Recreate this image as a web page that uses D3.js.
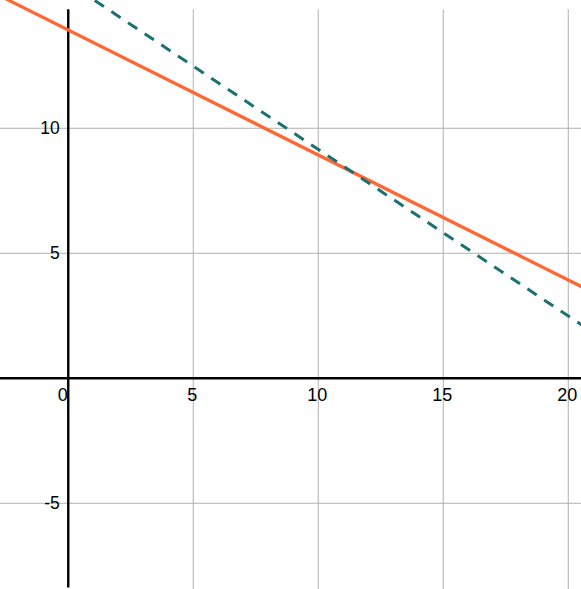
<!DOCTYPE html>
<html>
<head>
<meta charset="utf-8">
<script src="https://cdn.jsdelivr.net/npm/d3@7"></script>
<style>
  html, body { margin: 0; padding: 0; background: #fff; }
  svg { display: block; }
  text { font-family: "Liberation Sans", Arial, Helvetica, sans-serif; }
</style>
</head>
<body>
<svg id="chart" width="581" height="589"></svg>
<script>
// ---- data ----
const xDomain = [-2.73, 20.51];
const yDomain = [15.13, -8.43];
const xTicks = [0, 5, 10, 15, 20];
const yTicks = [10, 5, -5];
const xGrid = [5, 10, 15, 20];
const yGrid = [10, 5, -5];
const gridTop = 14.76;
const solidLine = [ {x: -3, y: 15.43}, {x: 21, y: 3.43} ];
const dashedLine = [ {x: 1.06, y: 15.11}, {x: 20.6, y: 2.09} ];

// ---- drawing ----
const W = 581, H = 589;
const svg = d3.select("#chart");
const x = d3.scaleLinear().domain(xDomain).range([0, W]);
const y = d3.scaleLinear().domain(yDomain).range([0, H]);

// grid
svg.append("g").selectAll("line").data(xGrid).join("line")
  .attr("x1", d => x(d)).attr("x2", d => x(d))
  .attr("y1", y(gridTop)).attr("y2", H)
  .attr("stroke", "#b0b0b0").attr("stroke-width", 1);
svg.append("g").selectAll("line").data(yGrid).join("line")
  .attr("x1", 0).attr("x2", W)
  .attr("y1", d => y(d)).attr("y2", d => y(d))
  .attr("stroke", "#b0b0b0").attr("stroke-width", 1);

// axes
svg.append("line")
  .attr("x1", 0).attr("x2", W)
  .attr("y1", y(0)).attr("y2", y(0))
  .attr("stroke", "#000").attr("stroke-width", 2.4);
svg.append("line")
  .attr("x1", x(0)).attr("x2", x(0))
  .attr("y1", y(gridTop)).attr("y2", H - 1.5)
  .attr("stroke", "#000").attr("stroke-width", 2.4);

// tick labels
svg.append("g").selectAll("text").data(xTicks).join("text")
  .attr("x", d => d === 0 ? x(0) - 0.5 : x(d) - 1)
  .attr("y", y(0) + 23)
  .attr("text-anchor", d => d === 0 ? "end" : "middle")
  .attr("font-size", 18)
  .attr("fill", "#000")
  .text(d => d);
svg.append("g").selectAll("text").data(yTicks).join("text")
  .attr("x", x(0) - 8.5)
  .attr("y", d => y(d) + 6)
  .attr("text-anchor", "end")
  .attr("font-size", 17.5)
  .attr("fill", "#000")
  .text(d => d);

// lines
const line = d3.line().x(d => x(d.x)).y(d => y(d.y));
svg.append("path").datum(solidLine)
  .attr("d", line)
  .attr("fill", "none")
  .attr("stroke", "#ff6633")
  .attr("stroke-width", 3.2);
svg.append("path").datum(dashedLine)
  .attr("d", line)
  .attr("fill", "none")
  .attr("stroke", "#1b7070")
  .attr("stroke-width", 3)
  .attr("stroke-dasharray", "11,9");
</script>
</body>
</html>
